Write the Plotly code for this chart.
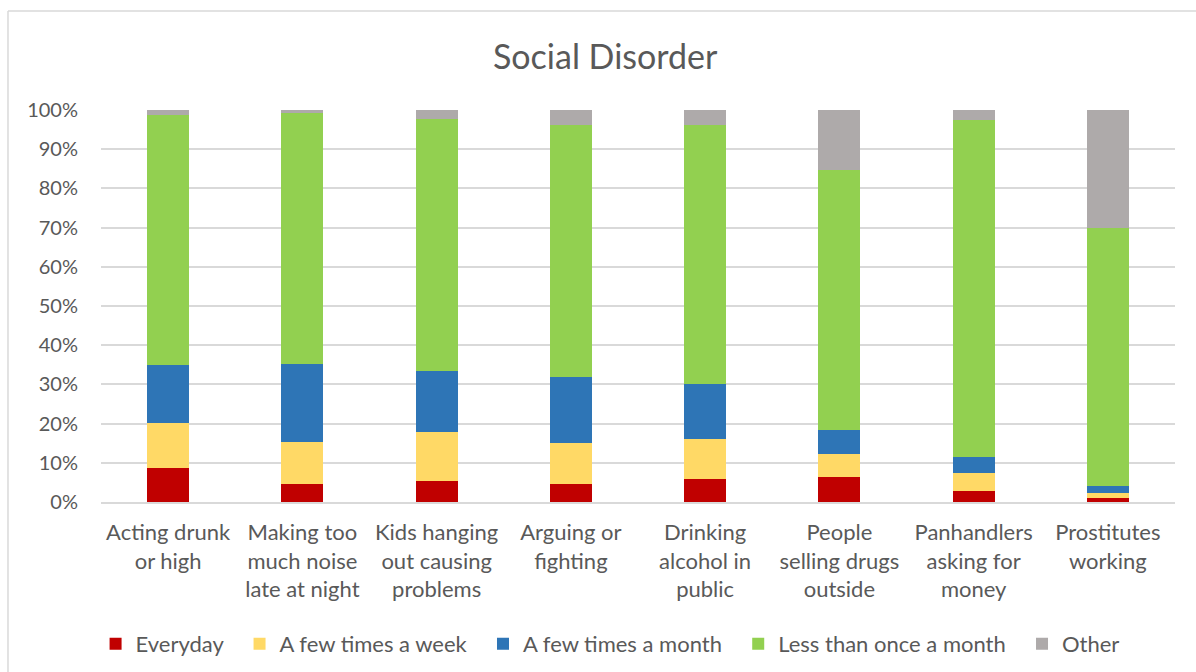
import plotly.graph_objects as go

# Survey categories (x axis)
categories = [
    "Acting drunk<br>or high",
    "Making too<br>much noise<br>late at night",
    "Kids hanging<br>out causing<br>problems",
    "Arguing or<br>fighting",
    "Drinking<br>alcohol in<br>public",
    "People<br>selling drugs<br>outside",
    "Panhandlers<br>asking for<br>money",
    "Prostitutes<br>working",
]

# Share of responses (%) per frequency band
everyday = [8.8, 4.7, 5.4, 4.7, 5.9, 6.5, 2.8, 0.9]
few_week = [11.4, 10.6, 12.5, 10.4, 10.3, 5.8, 4.5, 1.5]
few_month = [14.7, 19.8, 15.5, 16.9, 14.0, 6.1, 4.2, 1.7]
less_month = [63.8, 64.2, 64.2, 64.1, 65.9, 66.3, 85.9, 65.9]
other = [1.3, 0.7, 2.4, 3.9, 3.9, 15.3, 2.6, 30.0]

# legend labels; trailing no-break spaces widen the gap between entries
NB = "\u00a0\u00a0"
series = [
    ("Everyday" + NB, everyday, "#C00000"),
    ("A few times a week" + NB, few_week, "#FFD966"),
    ("A few times a month" + NB, few_month, "#2E75B6"),
    ("Less than once a month" + NB, less_month, "#92D050"),
    ("Other", other, "#AEAAAA"),
]

y_ticks = list(range(0, 101, 10))
y_tick_text = [f"{v}%" for v in y_ticks]

FONT = "Lato, 'Open Sans', sans-serif"
TEXT = "#595959"
GRID = "#D9D9D9"

fig = go.Figure()
for name, vals, color in series:
    fig.add_trace(go.Bar(
        x=categories, y=vals, name=name,
        marker=dict(color=color, line=dict(width=0)),
    ))

fig.update_layout(
    barmode="stack",
    bargap=0.687,
    width=1196, height=672,
    margin=dict(l=101, r=21, t=110, b=170, autoexpand=False),
    paper_bgcolor="white",
    plot_bgcolor="white",
    font=dict(family=FONT, color=TEXT, size=20),
    title=dict(
        text="Social Disorder",
        x=0.506, xanchor="center",
        y=1 - 57 / 672, yanchor="middle", yref="container",
        font=dict(size=34, color=TEXT, family=FONT),
    ),
    legend=dict(
        orientation="h",
        x=0.474, xanchor="center",
        y=28 / 672, yanchor="middle", yref="container",
        font=dict(size=22, color=TEXT, family=FONT),
        traceorder="normal",
    ),
    xaxis=dict(
        showgrid=False, automargin=False,
        showline=True, linecolor=GRID, linewidth=1.5,
        ticks="", tickfont=dict(size=22, color=TEXT),
        ticklabelstandoff=10,
    ),
    yaxis=dict(
        range=[0, 100], automargin=False,
        tickvals=y_ticks, ticktext=y_tick_text,
        showgrid=True, gridcolor=GRID, gridwidth=1.5,
        zeroline=False, showline=False,
        ticks="", tickfont=dict(size=20, color=TEXT),
        ticklabelstandoff=22,
    ),
    shapes=[
        # chart-area frame (left and top edges)
        dict(type="line", xref="paper", yref="paper",
             x0=-0.0866, x1=-0.0866, y0=1.2526, y1=-0.5,
             line=dict(color=GRID, width=1.5)),
        dict(type="line", xref="paper", yref="paper",
             x0=-0.0866, x1=1.05, y0=1.2526, y1=1.2526,
             line=dict(color=GRID, width=1.5)),
    ],
)

fig.write_html("out.html")
